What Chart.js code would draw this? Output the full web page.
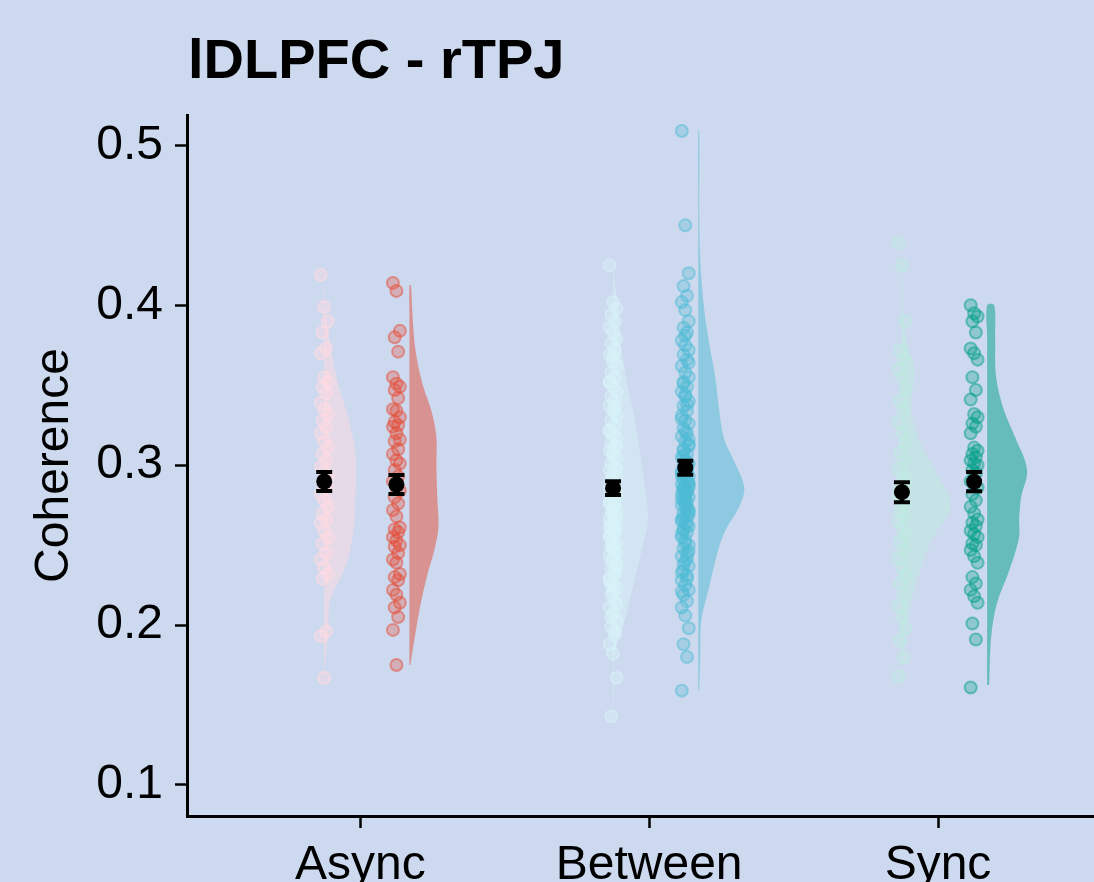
<!DOCTYPE html>
<html>
<head>
<meta charset="utf-8">
<script src="https://cdn.jsdelivr.net/npm/chart.js@4.4.0/dist/chart.umd.min.js"></script>
<style>
  html, body { margin: 0; padding: 0; background: #CDD9EE; overflow: hidden; }
  canvas { display: block; }
</style>
</head>
<body>
<canvas id="myChart" width="1094" height="882"></canvas>
<script>
const chartTitle = 'lDLPFC - rTPJ';
const categories = ['Async', 'Between', 'Sync'];
const yTicks = [0.1, 0.2, 0.3, 0.4, 0.5];

// raw points (light = first condition, dark = second)
const asyncLight = [0.419, 0.399, 0.390, 0.383, 0.373, 0.370, 0.355, 0.352, 0.349, 0.345, 0.339, 0.335, 0.332,
  0.328, 0.324, 0.320, 0.315, 0.311, 0.307, 0.303, 0.299, 0.296, 0.293, 0.289, 0.286, 0.282, 0.278, 0.274,
  0.270, 0.266, 0.264, 0.259, 0.255, 0.251, 0.245, 0.241, 0.236, 0.232, 0.229, 0.196, 0.193, 0.167];
const asyncDark = [0.414, 0.409, 0.384, 0.380, 0.371, 0.355, 0.351, 0.349, 0.347, 0.342, 0.335, 0.334, 0.330,
  0.327, 0.325, 0.324, 0.320, 0.316, 0.315, 0.310, 0.307, 0.303, 0.301, 0.297, 0.293, 0.290, 0.286, 0.284,
  0.280, 0.276, 0.272, 0.268, 0.261, 0.260, 0.258, 0.255, 0.253, 0.250, 0.249, 0.245, 0.241, 0.239, 0.232,
  0.230, 0.228, 0.222, 0.219, 0.214, 0.211, 0.205, 0.197, 0.175];
const betweenLight = [0.425, 0.402, 0.398, 0.394, 0.390, 0.386, 0.383, 0.379, 0.376, 0.372, 0.369, 0.365, 0.362,
  0.358, 0.355, 0.352, 0.349, 0.346, 0.343, 0.340, 0.337, 0.334, 0.331, 0.328, 0.325, 0.322, 0.319, 0.317,
  0.314, 0.311, 0.309, 0.306, 0.304, 0.301, 0.299, 0.297, 0.295, 0.293, 0.290, 0.288, 0.286, 0.284, 0.282,
  0.280, 0.278, 0.276, 0.274, 0.272, 0.270, 0.268, 0.266, 0.264, 0.262, 0.260, 0.258, 0.256, 0.254, 0.251,
  0.249, 0.246, 0.244, 0.241, 0.238, 0.235, 0.232, 0.229, 0.226, 0.223, 0.219, 0.215, 0.211, 0.207, 0.203,
  0.199, 0.194, 0.188, 0.182, 0.167, 0.143,
  0.336, 0.321, 0.308, 0.298, 0.291, 0.283, 0.277, 0.271, 0.267, 0.263, 0.259, 0.255, 0.250, 0.245, 0.240,
  0.234, 0.228, 0.221, 0.213, 0.205, 0.196, 0.352, 0.368, 0.312, 0.287, 0.275, 0.261, 0.248, 0.237, 0.225];
const betweenDark = [0.509, 0.450, 0.420, 0.412, 0.406, 0.402, 0.397, 0.390, 0.386, 0.383, 0.378, 0.375, 0.372,
  0.369, 0.366, 0.362, 0.358, 0.355, 0.352, 0.349, 0.346, 0.343, 0.340, 0.337, 0.334, 0.331, 0.328, 0.326,
  0.323, 0.320, 0.318, 0.315, 0.312, 0.310, 0.307, 0.305, 0.303, 0.301, 0.299, 0.297, 0.296, 0.294, 0.293,
  0.291, 0.290, 0.288, 0.287, 0.286, 0.285, 0.284, 0.282, 0.281, 0.280, 0.278, 0.277, 0.275, 0.274, 0.272,
  0.270, 0.268, 0.266, 0.264, 0.262, 0.260, 0.258, 0.255, 0.253, 0.250, 0.248, 0.245, 0.243, 0.240, 0.237,
  0.234, 0.231, 0.228, 0.225, 0.222, 0.219, 0.215, 0.211, 0.206, 0.198, 0.188, 0.180, 0.159,
  0.381, 0.364, 0.351, 0.338, 0.329, 0.321, 0.313, 0.306, 0.300, 0.295, 0.292, 0.289, 0.286, 0.283, 0.279,
  0.276, 0.271, 0.267, 0.263, 0.257, 0.251, 0.246, 0.238, 0.229, 0.221, 0.302, 0.288, 0.284, 0.273, 0.265,
  0.344, 0.316, 0.309, 0.298, 0.293, 0.279, 0.269, 0.259, 0.242, 0.233];
const syncLight = [0.439, 0.425, 0.390, 0.372, 0.366, 0.360, 0.355, 0.348, 0.340, 0.334, 0.327, 0.320, 0.314,
  0.308, 0.303, 0.298, 0.294, 0.290, 0.287, 0.284, 0.281, 0.278, 0.275, 0.272, 0.269, 0.265, 0.261, 0.257,
  0.252, 0.247, 0.242, 0.236, 0.231, 0.226, 0.219, 0.212, 0.205, 0.198, 0.190, 0.180, 0.168];
const syncDark = [0.400, 0.395, 0.393, 0.390, 0.383, 0.373, 0.370, 0.366, 0.355, 0.347, 0.341, 0.332, 0.330,
  0.326, 0.324, 0.320, 0.311, 0.309, 0.307, 0.305, 0.303, 0.301, 0.300, 0.297, 0.295, 0.290, 0.288, 0.286,
  0.282, 0.278, 0.274, 0.270, 0.266, 0.264, 0.262, 0.259, 0.257, 0.255, 0.251, 0.250, 0.247, 0.243, 0.239,
  0.230, 0.226, 0.222, 0.218, 0.214, 0.201, 0.191, 0.161];

// density outlines: coherence values and half-widths (in px)
const asyncLightVy = [0.167, 0.180, 0.195, 0.2156, 0.236, 0.2575, 0.278, 0.299, 0.309, 0.330, 0.351, 0.372, 0.3925, 0.419];
const asyncLightVw = [0, 1.5, 4, 6, 21, 29, 31, 32, 31, 24, 14, 7, 2, 0];
const asyncDarkVy = [0.175, 0.195, 0.2156, 0.234, 0.247, 0.261, 0.278, 0.299, 0.3175, 0.334, 0.351, 0.372, 0.395, 0.4125];
const asyncDarkVw = [1, 6, 12, 19, 25, 29, 28, 27, 27, 22, 13, 6, 3, 1.5];
const betweenLightVy = [0.1425, 0.161, 0.1825, 0.203, 0.224, 0.245, 0.2656, 0.286, 0.3075, 0.328, 0.355, 0.376, 0.397, 0.425];
const betweenLightVw = [0, 1, 2, 12, 20, 28, 35, 32, 27, 22, 13, 8, 5, 0];
const betweenDarkVy = [0.159, 0.1825, 0.203, 0.224, 0.245, 0.259, 0.274, 0.286, 0.301, 0.316, 0.334, 0.355, 0.376, 0.397, 0.428, 0.459, 0.509];
const betweenDarkVw = [1, 2, 3, 11, 19, 27, 41, 46, 37, 26, 21, 17, 11, 6, 2, 1, 1];
const syncLightVy = [0.1656, 0.1925, 0.214, 0.234, 0.255, 0.274, 0.297, 0.3175, 0.339, 0.359, 0.374, 0.390, 0.411, 0.439];
const syncLightVw = [0, 3, 9, 18, 31, 49, 33, 16, 9, 13, 6, 2, 1, 0];
const syncDarkVy = [0.1625, 0.1925, 0.214, 0.234, 0.255, 0.2656, 0.280, 0.297, 0.3175, 0.334, 0.355, 0.380, 0.400];
const syncDarkVw = [2, 4, 10, 22, 32, 32, 34, 40, 28, 17, 9, 8, 7];

// means and standard errors
const lightMeans = [0.2898, 0.2856, 0.2831];
const lightErr = [0.006, 0.0043, 0.0063];
const darkMeans = [0.2879, 0.2984, 0.2897];
const darkErr = [0.006, 0.0044, 0.006];

const lightColors = ['255,218,226', '215,242,247', '190,235,224'];
const darkColors = ['230,75,53', '77,187,213', '0,160,135'];

const PTS_OFF = 0.125;   // points left/right of category
const VIO_OFF = 0.17;    // dark violin baseline
const PX = 1 / 289;      // x units per px of violin width

const groups = [
  { c: 0, dark: false, vals: asyncLight, vy: asyncLightVy, vw: asyncLightVw },
  { c: 0, dark: true, vals: asyncDark, vy: asyncDarkVy, vw: asyncDarkVw },
  { c: 1, dark: false, vals: betweenLight, vy: betweenLightVy, vw: betweenLightVw },
  { c: 1, dark: true, vals: betweenDark, vy: betweenDarkVy, vw: betweenDarkVw },
  { c: 2, dark: false, vals: syncLight, vy: syncLightVy, vw: syncLightVw },
  { c: 2, dark: true, vals: syncDark, vy: syncDarkVy, vw: syncDarkVw }
];

const datasets = [];
const meanBars = [];
groups.forEach(g => {
  const center = g.c + 1;
  const px = center + (g.dark ? PTS_OFF : -PTS_OFF);
  const base = center + (g.dark ? VIO_OFF : -PTS_OFF);
  const rgb = g.dark ? darkColors[g.c] : lightColors[g.c];

  const outline = g.vy.map((y, i) => ({ x: base + g.vw[i] * PX, y: y }));
  for (let i = g.vy.length - 1; i >= 0; i--) outline.push({ x: base, y: g.vy[i] });
  datasets.push({
    data: outline,
    showLine: true,
    fill: 'shape',
    tension: 0.35,
    borderWidth: 0,
    pointRadius: 0,
    backgroundColor: 'rgba(' + rgb + ',0.5)',
    borderColor: 'rgba(' + rgb + ',0)',
    order: 3
  });

  datasets.push({
    data: g.vals.map((v, i) => ({ x: px + ((i * 7) % 5 - 2) * 0.006, y: v })),
    pointRadius: 6,
    pointBorderWidth: 2,
    backgroundColor: 'rgba(' + rgb + ',' + (g.dark ? 0.3 : 0.4) + ')',
    borderColor: 'rgba(' + rgb + ',' + (g.dark ? 0.5 : 0.55) + ')',
    order: 2
  });

  const m = g.dark ? darkMeans[g.c] : lightMeans[g.c];
  const e = g.dark ? darkErr[g.c] : lightErr[g.c];
  meanBars.push({ x: px, mean: m, err: e });
});

datasets.push({
  data: meanBars.map(b => ({ x: b.x, y: b.mean })),
  pointRadius: 8,
  pointBorderWidth: 0,
  backgroundColor: '#000',
  order: 0
});

const errorBars = {
  id: 'errorBars',
  afterDatasetsDraw(chart) {
    const { ctx, scales: { x, y } } = chart;
    ctx.save();
    ctx.strokeStyle = '#000';
    ctx.lineWidth = 4;
    meanBars.forEach(b => {
      const cx = x.getPixelForValue(b.x);
      const top = y.getPixelForValue(b.mean + b.err);
      const bot = y.getPixelForValue(b.mean - b.err);
      ctx.beginPath();
      ctx.moveTo(cx, top); ctx.lineTo(cx, bot);
      ctx.moveTo(cx - 8, top); ctx.lineTo(cx + 8, top);
      ctx.moveTo(cx - 8, bot); ctx.lineTo(cx + 8, bot);
      ctx.stroke();
    });
    ctx.restore();
  }
};

const titlePlugin = {
  id: 'plotTitle',
  afterDraw(chart) {
    const ctx = chart.ctx;
    ctx.save();
    ctx.fillStyle = '#000';
    ctx.font = 'bold 56px "Liberation Sans", Arial, sans-serif';
    ctx.textAlign = 'left';
    ctx.textBaseline = 'alphabetic';
    ctx.fillText(chartTitle, chart.chartArea.left + 1, 78);
    ctx.restore();
  }
};

const tickFont = { family: '"Liberation Sans", Arial, sans-serif', size: 48 };

const ctx = document.getElementById('myChart').getContext('2d');
const myChart = new Chart(ctx, {
  type: 'scatter',
  data: { datasets: datasets },
  options: {
    responsive: false,
    animation: false,
    layout: { autoPadding: false, padding: { top: 115, left: 0, right: 0, bottom: 0 } },
    plugins: { legend: { display: false }, tooltip: { enabled: false } },
    scales: {
      x: {
        type: 'linear',
        min: 0.4,
        max: 3.54,
        afterBuildTicks: s => { s.ticks = [1, 2, 3].map(v => ({ value: v })); },
        afterFit: s => { s.height = 66; s.paddingLeft = 0; s.paddingRight = 0; },
        ticks: {
          callback: v => categories[v - 1],
          font: tickFont,
          color: '#000',
          padding: 9,
          autoSkip: false,
          maxRotation: 0
        },
        grid: { drawOnChartArea: false, tickLength: 12, tickWidth: 2.5, tickColor: '#000' },
        border: { color: '#000', width: 3 }
      },
      y: {
        type: 'linear',
        min: 0.0806,
        max: 0.519,
        afterBuildTicks: s => { s.ticks = yTicks.map(v => ({ value: v })); },
        afterFit: s => { s.width = 187; s.paddingTop = 0; s.paddingBottom = 0; },
        ticks: {
          callback: v => v.toFixed(1),
          font: tickFont,
          color: '#000',
          padding: 12
        },
        title: {
          display: true,
          text: 'Coherence',
          font: tickFont,
          color: '#000',
          padding: { top: 26, bottom: 0 }
        },
        grid: { drawOnChartArea: false, tickLength: 12, tickWidth: 2.5, tickColor: '#000' },
        border: { color: '#000', width: 3 }
      }
    }
  },
  plugins: [errorBars, titlePlugin]
});
</script>
</body>
</html>
